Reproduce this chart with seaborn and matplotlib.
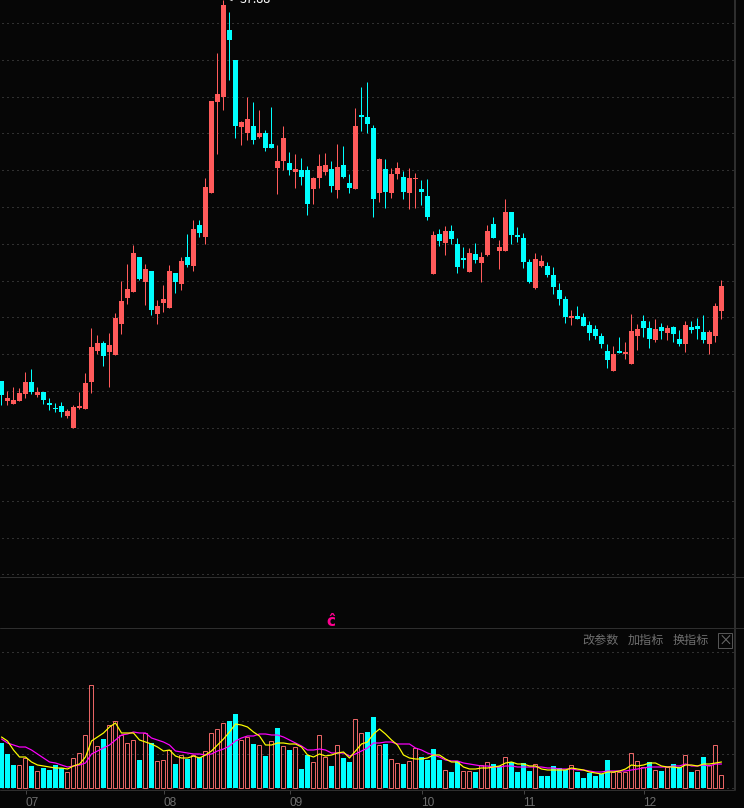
#!/usr/bin/env python
"""
Daily candlestick chart with a volume panel underneath (dark trading terminal look).
Prices and volumes have no scale in the picture, so they are read in chart units:
prices as rows from the top of the price panel, volumes as height above the baseline.
"""

import numpy as np
import matplotlib.pyplot as plt
from matplotlib.patches import Rectangle
import seaborn as sns

# Candles: open, close, high, low
opens = [381, 401, 404, 401, 394, 382, 395, 392, 403, 408, 406, 416, 428, 408, 409, 382, 351, 343, 352, 355,
         324, 298, 292, 257, 282, 271, 314, 303, 308, 273, 284, 257, 266, 225, 237, 193, 102, 97, 30, 60,
         127, 133, 126, 137, 133, 144, 168, 161, 163, 172, 170, 170, 189, 178, 172, 169, 190, 165, 183, 189,
         115, 117, 128, 193, 169, 193, 174, 177, 193, 179, 189, 196, 274, 234, 243, 231, 244, 258, 272, 254,
         263, 255, 224, 251, 251, 212, 235, 238, 262, 288, 266, 266, 275, 290, 299, 318, 316, 317, 325, 329,
         336, 351, 371, 351, 354, 364, 336, 321, 328, 340, 327, 333, 327, 339, 344, 327, 326, 332, 344, 336,
         311]
closes = [395, 398, 400, 393, 382, 392, 392, 400, 405, 409, 412, 411, 407, 406, 383, 347, 343, 356, 345, 318,
          301, 289, 253, 279, 269, 310, 306, 299, 271, 282, 261, 265, 229, 233, 187, 101, 94, 5, 40, 126,
          122, 119, 140, 133, 148, 148, 161, 138, 170, 169, 177, 204, 178, 166, 165, 186, 167, 177, 188, 126,
          117, 124, 199, 159, 192, 174, 168, 192, 178, 178, 192, 217, 235, 241, 231, 239, 267, 260, 253, 260,
          257, 231, 238, 247, 212, 235, 237, 262, 282, 259, 261, 275, 287, 299, 317, 316, 319, 326, 333, 336,
          344, 360, 354, 353, 352, 331, 329, 328, 339, 329, 331, 328, 334, 344, 325, 330, 329, 340, 332, 306,
          286]
highs = [381, 391, 387, 388, 372, 369, 387, 392, 398, 403, 402, 409, 405, 392, 373, 328, 335, 341, 333, 313,
         281, 264, 245, 257, 264, 271, 300, 285, 265, 273, 257, 234, 220, 220, 178, 101, 53, 0, 12, 60,
         121, 97, 102, 110, 130, 107, 145, 126, 152, 154, 158, 166, 177, 154, 153, 161, 144, 146, 174, 108,
         87, 82, 125, 158, 159, 168, 162, 171, 168, 173, 180, 179, 231, 229, 226, 225, 238, 247, 248, 243,
         252, 225, 217, 240, 199, 212, 227, 233, 259, 253, 255, 262, 267, 283, 296, 310, 306, 313, 321, 325,
         333, 344, 346, 337, 342, 314, 324, 315, 321, 319, 323, 325, 326, 330, 321, 321, 318, 315, 330, 303,
         280]
lows = [405, 405, 404, 401, 398, 394, 397, 404, 410, 412, 417, 418, 428, 409, 409, 393, 354, 366, 387, 355,
        334, 304, 292, 280, 305, 315, 324, 312, 308, 293, 290, 267, 271, 237, 244, 193, 154, 110, 80, 138,
        145, 140, 144, 138, 151, 148, 194, 170, 175, 188, 185, 215, 204, 188, 175, 192, 198, 178, 193, 189,
        131, 133, 217, 202, 208, 198, 179, 199, 209, 208, 205, 220, 274, 246, 255, 244, 273, 268, 272, 263,
        282, 256, 238, 269, 251, 244, 242, 268, 283, 289, 267, 277, 294, 305, 323, 325, 319, 326, 340, 339,
        348, 368, 371, 353, 359, 364, 350, 337, 348, 342, 339, 340, 342, 346, 352, 333, 339, 343, 354, 342,
        319]

# Volume heights, and the bars drawn solid teal (all others are hollow red)
volume = [45, 34, 23, 23, 30, 22, 17, 20, 18, 23, 20, 16, 30, 35, 53, 103, 42, 49, 63, 67,
          53, 45, 48, 28, 55, 45, 27, 28, 38, 24, 33, 29, 33, 31, 37, 55, 59, 65, 67, 74,
          48, 51, 44, 43, 32, 47, 60, 42, 38, 41, 19, 33, 26, 53, 31, 22, 43, 30, 26, 69,
          55, 56, 71, 43, 44, 29, 25, 24, 27, 40, 31, 28, 39, 28, 18, 16, 27, 17, 17, 16,
          23, 26, 24, 22, 31, 26, 16, 25, 17, 24, 12, 12, 22, 20, 18, 23, 16, 10, 15, 12,
          14, 28, 16, 16, 16, 35, 27, 21, 26, 18, 17, 21, 24, 21, 33, 16, 18, 31, 23, 43,
          13]
volume_down = [0, 1, 2, 5, 7, 8, 9, 10, 17, 23, 25, 29, 31, 33, 38, 39, 42, 44, 46, 48, 50, 51, 55, 57, 58,
               61, 62, 64, 67, 70, 71, 72, 73, 75, 76, 79, 82, 83, 85, 86, 87, 88, 90, 91, 92, 93, 94,
               96, 97, 98, 99, 100, 101, 108, 110, 112, 113, 115, 117]

# Moving averages of the volume
ma_short = [51, 47, 38, 31, 31, 26, 23, 22, 21, 20, 20, 19, 22, 24, 31, 47, 51, 55, 61, 65,
            55, 55, 55, 48, 46, 44, 41, 37, 38, 32, 30, 30, 32, 30, 33, 37, 43, 49, 56, 64,
            63, 61, 56, 52, 43, 43, 45, 45, 44, 44, 41, 33, 31, 34, 32, 33, 35, 36, 30, 37,
            44, 46, 54, 59, 54, 48, 43, 33, 30, 29, 29, 30, 33, 33, 29, 26, 26, 21, 19, 19,
            20, 20, 21, 22, 25, 26, 24, 24, 22, 22, 19, 18, 18, 18, 18, 20, 19, 18, 16, 15,
            14, 16, 16, 17, 19, 23, 22, 23, 25, 25, 22, 21, 21, 20, 23, 23, 22, 24, 24, 25,
            26]
ma_long = [49, 45, 43, 41, 41, 38, 34, 30, 26, 25, 23, 21, 22, 23, 25, 34, 37, 40, 43, 48,
           53, 54, 56, 55, 55, 50, 48, 46, 43, 37, 36, 35, 34, 34, 33, 34, 37, 39, 42, 47,
           50, 52, 52, 54, 54, 53, 53, 51, 48, 45, 42, 38, 38, 39, 38, 35, 35, 35, 32, 34,
           37, 40, 45, 45, 46, 46, 44, 44, 44, 40, 38, 35, 33, 31, 28, 27, 27, 25, 24, 23,
           22, 22, 21, 21, 22, 22, 21, 21, 21, 21, 21, 20, 20, 19, 19, 19, 18, 18, 17, 16,
           16, 17, 17, 17, 17, 18, 19, 20, 21, 21, 21, 21, 22, 22, 24, 22, 22, 23, 22, 24,
           24]

# Month labels and the candle each month starts on
month_labels = ["07", "08", "09", "10", "11", "12"]
month_ticks = [4, 27, 48, 70, 87, 107]

# Rows of the dotted guide lines
price_grid = [23, 60, 97, 133, 170, 207, 244, 281, 317, 354, 391, 428, 465, 501, 538, 574]
volume_grid = [136, 100, 67, 34, 0]

BG = "#060606"
RED = "#ff5a5a"
HOLLOW = "#e86464"
CYAN = "#00ffff"
RULE = "#2e2e2e"
GUIDE = "#5a5a5a"
LABEL = "#6e6e6e"
W, H = 744, 808
PX = 72 / 100  # one pixel in points
NUDGE = 0.01   # keeps 1px lines on the left pixel when agg snaps them


def add_panel(fig, top, bottom):
    """Axes spanning the full width between two pixel rows of the figure."""
    ax = fig.add_axes([0, 1 - bottom / H, 1, (bottom - top) / H])
    ax.set_facecolor("none")
    ax.set_xlim(-0.25, 123.75)
    for spine in ax.spines.values():
        spine.set_visible(False)
    ax.tick_params(left=False, bottom=False, labelleft=False, labelbottom=False)
    ax.grid(False)
    return ax


def draw_guides(ax, rows):
    ax.hlines(rows, 1 / 12, 122.1, colors=GUIDE, linewidth=PX, linestyles=(0, (1, 4)),
              capstyle="butt", zorder=1)


def plot_candles(ax):
    idx = np.arange(len(opens))
    o, c = np.array(opens), np.array(closes)
    colors = np.where(c < o, RED, CYAN)  # rows grow downwards, so a smaller row is a higher price
    ax.vlines(idx - NUDGE, highs, lows, colors=colors, linewidth=PX, capstyle="butt", zorder=2)
    ax.bar(idx, np.abs(o - c), bottom=np.minimum(o, c), width=5 / 6, color=colors, linewidth=0, zorder=3)


def plot_volume(ax):
    idx = np.arange(len(volume))
    vol = np.array(volume)
    down = np.isin(idx, volume_down)
    # teal bars are solid, red ones hollow
    sns.barplot(x=idx[down], y=vol[down], native_scale=True, color=CYAN, saturation=1,
                width=5 / 6, linewidth=0, ax=ax, zorder=3)
    sns.barplot(x=idx[~down] - NUDGE, y=vol[~down], native_scale=True, fill=False, color=HOLLOW, saturation=1,
                width=4 / 6, linewidth=PX, ax=ax, zorder=3)
    sns.lineplot(x=idx, y=ma_long, color="#ff00ff", linewidth=PX * 1.2, ax=ax, zorder=4, legend=False)
    sns.lineplot(x=idx, y=ma_short, color="#ffff00", linewidth=PX * 1.2, ax=ax, zorder=5, legend=False)


def main():
    sns.set_theme(style="dark")
    plt.rcParams["font.family"] = ["Noto Sans CJK SC", "DejaVu Sans"]

    fig = plt.figure(figsize=(W / 100, H / 100), dpi=100, facecolor=BG)

    # Price panel
    price_ax = add_panel(fig, 0, 577)
    price_ax.set_ylim(577, 0)
    draw_guides(price_ax, np.array(price_grid) + 0.4)
    plot_candles(price_ax)

    # Volume panel
    vol_ax = add_panel(fig, 628, 790)
    vol_ax.set_ylim(-2, 160)
    draw_guides(vol_ax, np.array(volume_grid) - 0.4)
    plot_volume(vol_ax)
    vol_ax.set_xlim(-0.25, 123.75)
    vol_ax.set_xticks(month_ticks, month_labels, ha="left")
    vol_ax.tick_params(bottom=True, labelbottom=True, length=3, width=PX, color="#444444",
                       labelcolor=LABEL, labelsize=8.6, pad=2, direction="out")
    for tick in vol_ax.get_xticklabels():
        tick.set_fontfamily(["Liberation Sans", "DejaVu Sans"])
    vol_ax.set_xlabel("")
    vol_ax.set_ylabel("")

    # Panel rules
    fig.add_artist(plt.Line2D([0, 1], [1 - 577.4 / H] * 2, color=RULE, linewidth=PX))
    fig.add_artist(plt.Line2D([0, 1], [1 - 628.4 / H] * 2, color=RULE, linewidth=PX))
    fig.add_artist(plt.Line2D([0, 734 / W], [1 - 790.4 / H] * 2, color=RULE, linewidth=PX))
    fig.add_artist(plt.Line2D([735 / W] * 2, [1 - 790 / H, 1], color=RULE, linewidth=PX * 2))

    # Highest price label, cut by the top edge as in the terminal
    fig.text(225 / W, 1 - 3 / H, "<", color="white", fontsize=9, ha="left", va="baseline")
    fig.text(240 / W, 1 - 3 / H, "37.88", color="white", fontsize=9, ha="left", va="baseline")

    # Panel texts
    fig.text(331 / W, 1 - 621 / H, "ĉ", color="#ff0090", fontsize=11, fontweight="bold", ha="center", va="center")
    for x, label in [(600.5, "改参数"), (645.5, "加指标"), (690.5, "换指标")]:
        fig.text(x / W, 1 - 640 / H, label, color=LABEL, fontsize=8.7, ha="center", va="center")
    fig.add_artist(Rectangle((718.4 / W, 1 - 648.4 / H), 14 / W, 15 / H, transform=fig.transFigure,
                             fill=False, edgecolor="#555555", linewidth=PX))
    fig.text(725.5 / W, 1 - 640.5 / H, "×", color=LABEL, fontsize=10, ha="center", va="center")

    fig.savefig("out.png", dpi=100, facecolor=BG)


if __name__ == "__main__":
    main()
